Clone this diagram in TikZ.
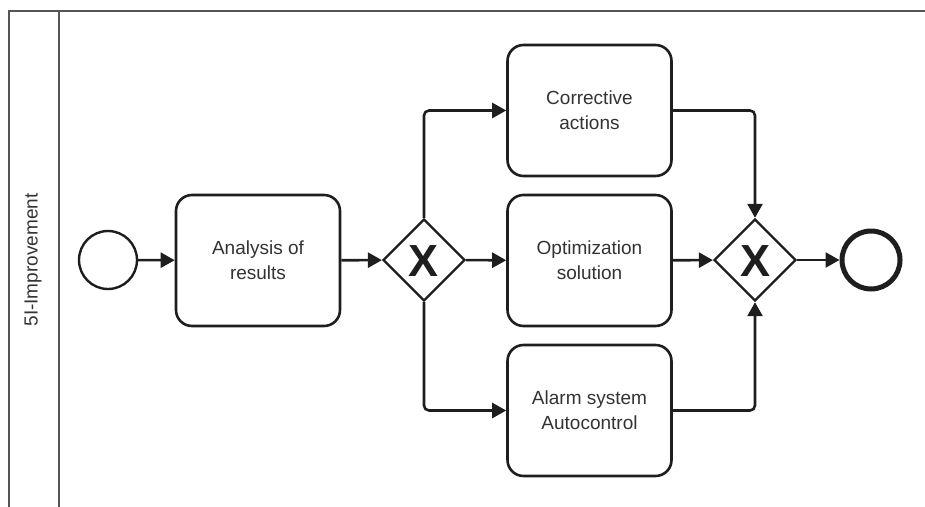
\documentclass[tikz,border=0pt]{standalone}
\usepackage{fontspec}
\setmainfont{Liberation Sans}
\usetikzlibrary{shapes.geometric,arrows.meta}
\definecolor{ink}{HTML}{1E1E1E}
\definecolor{txt}{HTML}{333333}
\definecolor{poolline}{HTML}{555555}
\begin{document}
\begin{tikzpicture}[x=1pt,y=-1pt,
  task/.style={draw=ink,line width=2.6pt,rounded corners=16pt,fill=white,
    minimum width=164pt,minimum height=131pt,align=center,text=txt,
    font=\fontsize{19}{25}\selectfont,inner sep=0pt},
  gate/.style={draw=ink,line width=2.4pt,diamond,aspect=1,fill=white,
    minimum width=82pt,minimum height=82pt,inner sep=0pt},
  gatemark/.style={font=\fontsize{45}{45}\bfseries\selectfont,text=ink,inner sep=0pt},
  startev/.style={circle,draw=ink,line width=2.4pt,minimum size=58pt,inner sep=0pt,fill=white},
  endev/.style={circle,draw=ink,line width=5pt,minimum size=58pt,inner sep=0pt,fill=white},
  flow/.style={draw=ink,line width=2.6pt,rounded corners=5pt,
    -{Triangle[length=14pt,width=15pt]}},
]
\useasboundingbox (0,0) rectangle (925,506);
\begin{scope}
\clip (0,0) rectangle (925,506);
% pool and lane header
\draw[poolline,line width=2.2pt] (9,11) rectangle (940,520);
\draw[poolline,line width=2.2pt] (59,11) -- (59,520);
\end{scope}
\node[rotate=90,text=txt,font=\fontsize{19}{22}\selectfont] (lane) at (33,260) {5I-Improvement};

% events, tasks, gateways
\node[startev] (start) at (108,260) {};
\node[task] (ana) at (258,260.5) {Analysis of\\results};
\node[gate] (g1) at (424,260) {};
\node[gatemark] (g1x) at (424,261) {X};
\node[task] (corr) at (589.5,110.5) {Corrective\\actions};
\node[task] (opt) at (589.5,260.5) {Optimization\\solution};
\node[task] (alarm) at (589.5,410.5) {Alarm system\\Autocontrol};
\node[gate] (g2) at (755,260) {};
\node[gatemark] (g2x) at (755,261) {X};
\node[endev] (end) at (871,260) {};

% sequence flows
\draw[flow] (start) -- (ana);
\draw[flow] (ana) -- (g1);
\draw[flow] (g1) -- (opt);
\draw[flow] (opt) -- (g2);
\draw[flow] (g2) -- (end);
\draw[flow] (g1.north) |- (corr.west);
\draw[flow] (g1.south) |- (alarm.west);
\draw[flow] (corr.east) -| (g2.north);
\draw[flow] (alarm.east) -| (g2.south);
\end{tikzpicture}
\end{document}
